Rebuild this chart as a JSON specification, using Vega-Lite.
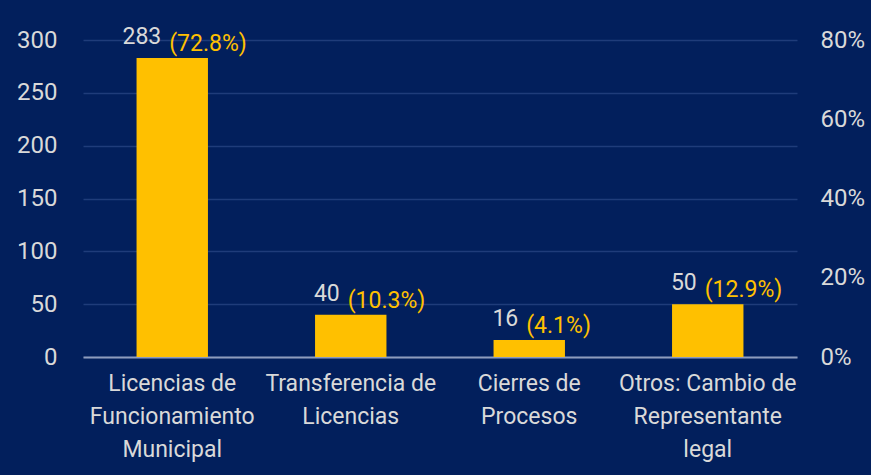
{
  "$schema": "https://vega.github.io/schema/vega-lite/v6.json",
  "width": 714,
  "height": 317,
  "autosize": {"type": "none"},
  "padding": {"left": 83, "top": 40, "right": 74, "bottom": 118},
  "background": "#021f5c",
  "config": {
    "view": {"stroke": null},
    "font": "Roboto",
    "axis": {"labelFont": "Roboto", "labelFontSize": 24, "labelColor": "#d9d9d9", "ticks": false, "title": null, "labelLimit": 0}
  },
  "data": {
    "values": [
      {"categoria": "Licencias de Funcionamiento Municipal", "cantidad": 283, "pct": 0.728, "etiqueta": "(72.8%)"},
      {"categoria": "Transferencia de Licencias", "cantidad": 40, "pct": 0.103, "etiqueta": "(10.3%)"},
      {"categoria": "Cierres de Procesos", "cantidad": 16, "pct": 0.041, "etiqueta": "(4.1%)"},
      {"categoria": "Otros: Cambio de Representante legal", "cantidad": 50, "pct": 0.129, "etiqueta": "(12.9%)"}
    ]
  },
  "encoding": {
    "x": {
      "field": "categoria",
      "type": "nominal",
      "sort": null,
      "scale": {"paddingInner": 0.6, "paddingOuter": 0.3},
      "axis": {
        "labelAngle": 0,
        "labelPadding": 15,
        "labelFontSize": 23,
        "labelLineHeight": 33,
        "labelBaseline": "top",
        "domain": true,
        "domainColor": "#8e9cbd",
        "domainWidth": 2,
        "labelExpr": "datum.label == 'Licencias de Funcionamiento Municipal' ? ['Licencias de', 'Funcionamiento', 'Municipal'] : datum.label == 'Transferencia de Licencias' ? ['Transferencia de', 'Licencias'] : datum.label == 'Cierres de Procesos' ? ['Cierres de', 'Procesos'] : ['Otros: Cambio de', 'Representante', 'legal']"
      }
    }
  },
  "layer": [
    {
      "encoding": {
        "y": {
          "field": "cantidad",
          "type": "quantitative",
          "scale": {"domain": [0, 300]},
          "axis": {"values": [0, 50, 100, 150, 200, 250, 300], "domain": false, "grid": true, "gridColor": "#1f3c7a", "gridWidth": 1.5, "labelPadding": 26}
        }
      },
      "layer": [
        {"mark": {"type": "bar", "color": "#ffc000"}},
        {
          "mark": {"type": "text", "color": "#d9d9d9", "fontSize": 23, "align": "right", "baseline": "alphabetic", "dx": -11, "dy": -14},
          "encoding": {"text": {"field": "cantidad", "type": "quantitative"}}
        },
        {
          "mark": {"type": "text", "color": "#ffc000", "fontSize": 23, "align": "left", "baseline": "alphabetic", "dx": -3, "dy": -7},
          "encoding": {"text": {"field": "etiqueta", "type": "nominal"}}
        }
      ]
    },
    {
      "mark": {"type": "tick", "opacity": 0},
      "encoding": {
        "y": {
          "field": "pct",
          "type": "quantitative",
          "scale": {"domain": [0, 0.8]},
          "axis": {"orient": "right", "values": [0, 0.2, 0.4, 0.6, 0.8], "format": ".0%", "domain": false, "grid": false, "labelPadding": 23}
        }
      }
    }
  ],
  "resolve": {"scale": {"y": "independent"}}
}
